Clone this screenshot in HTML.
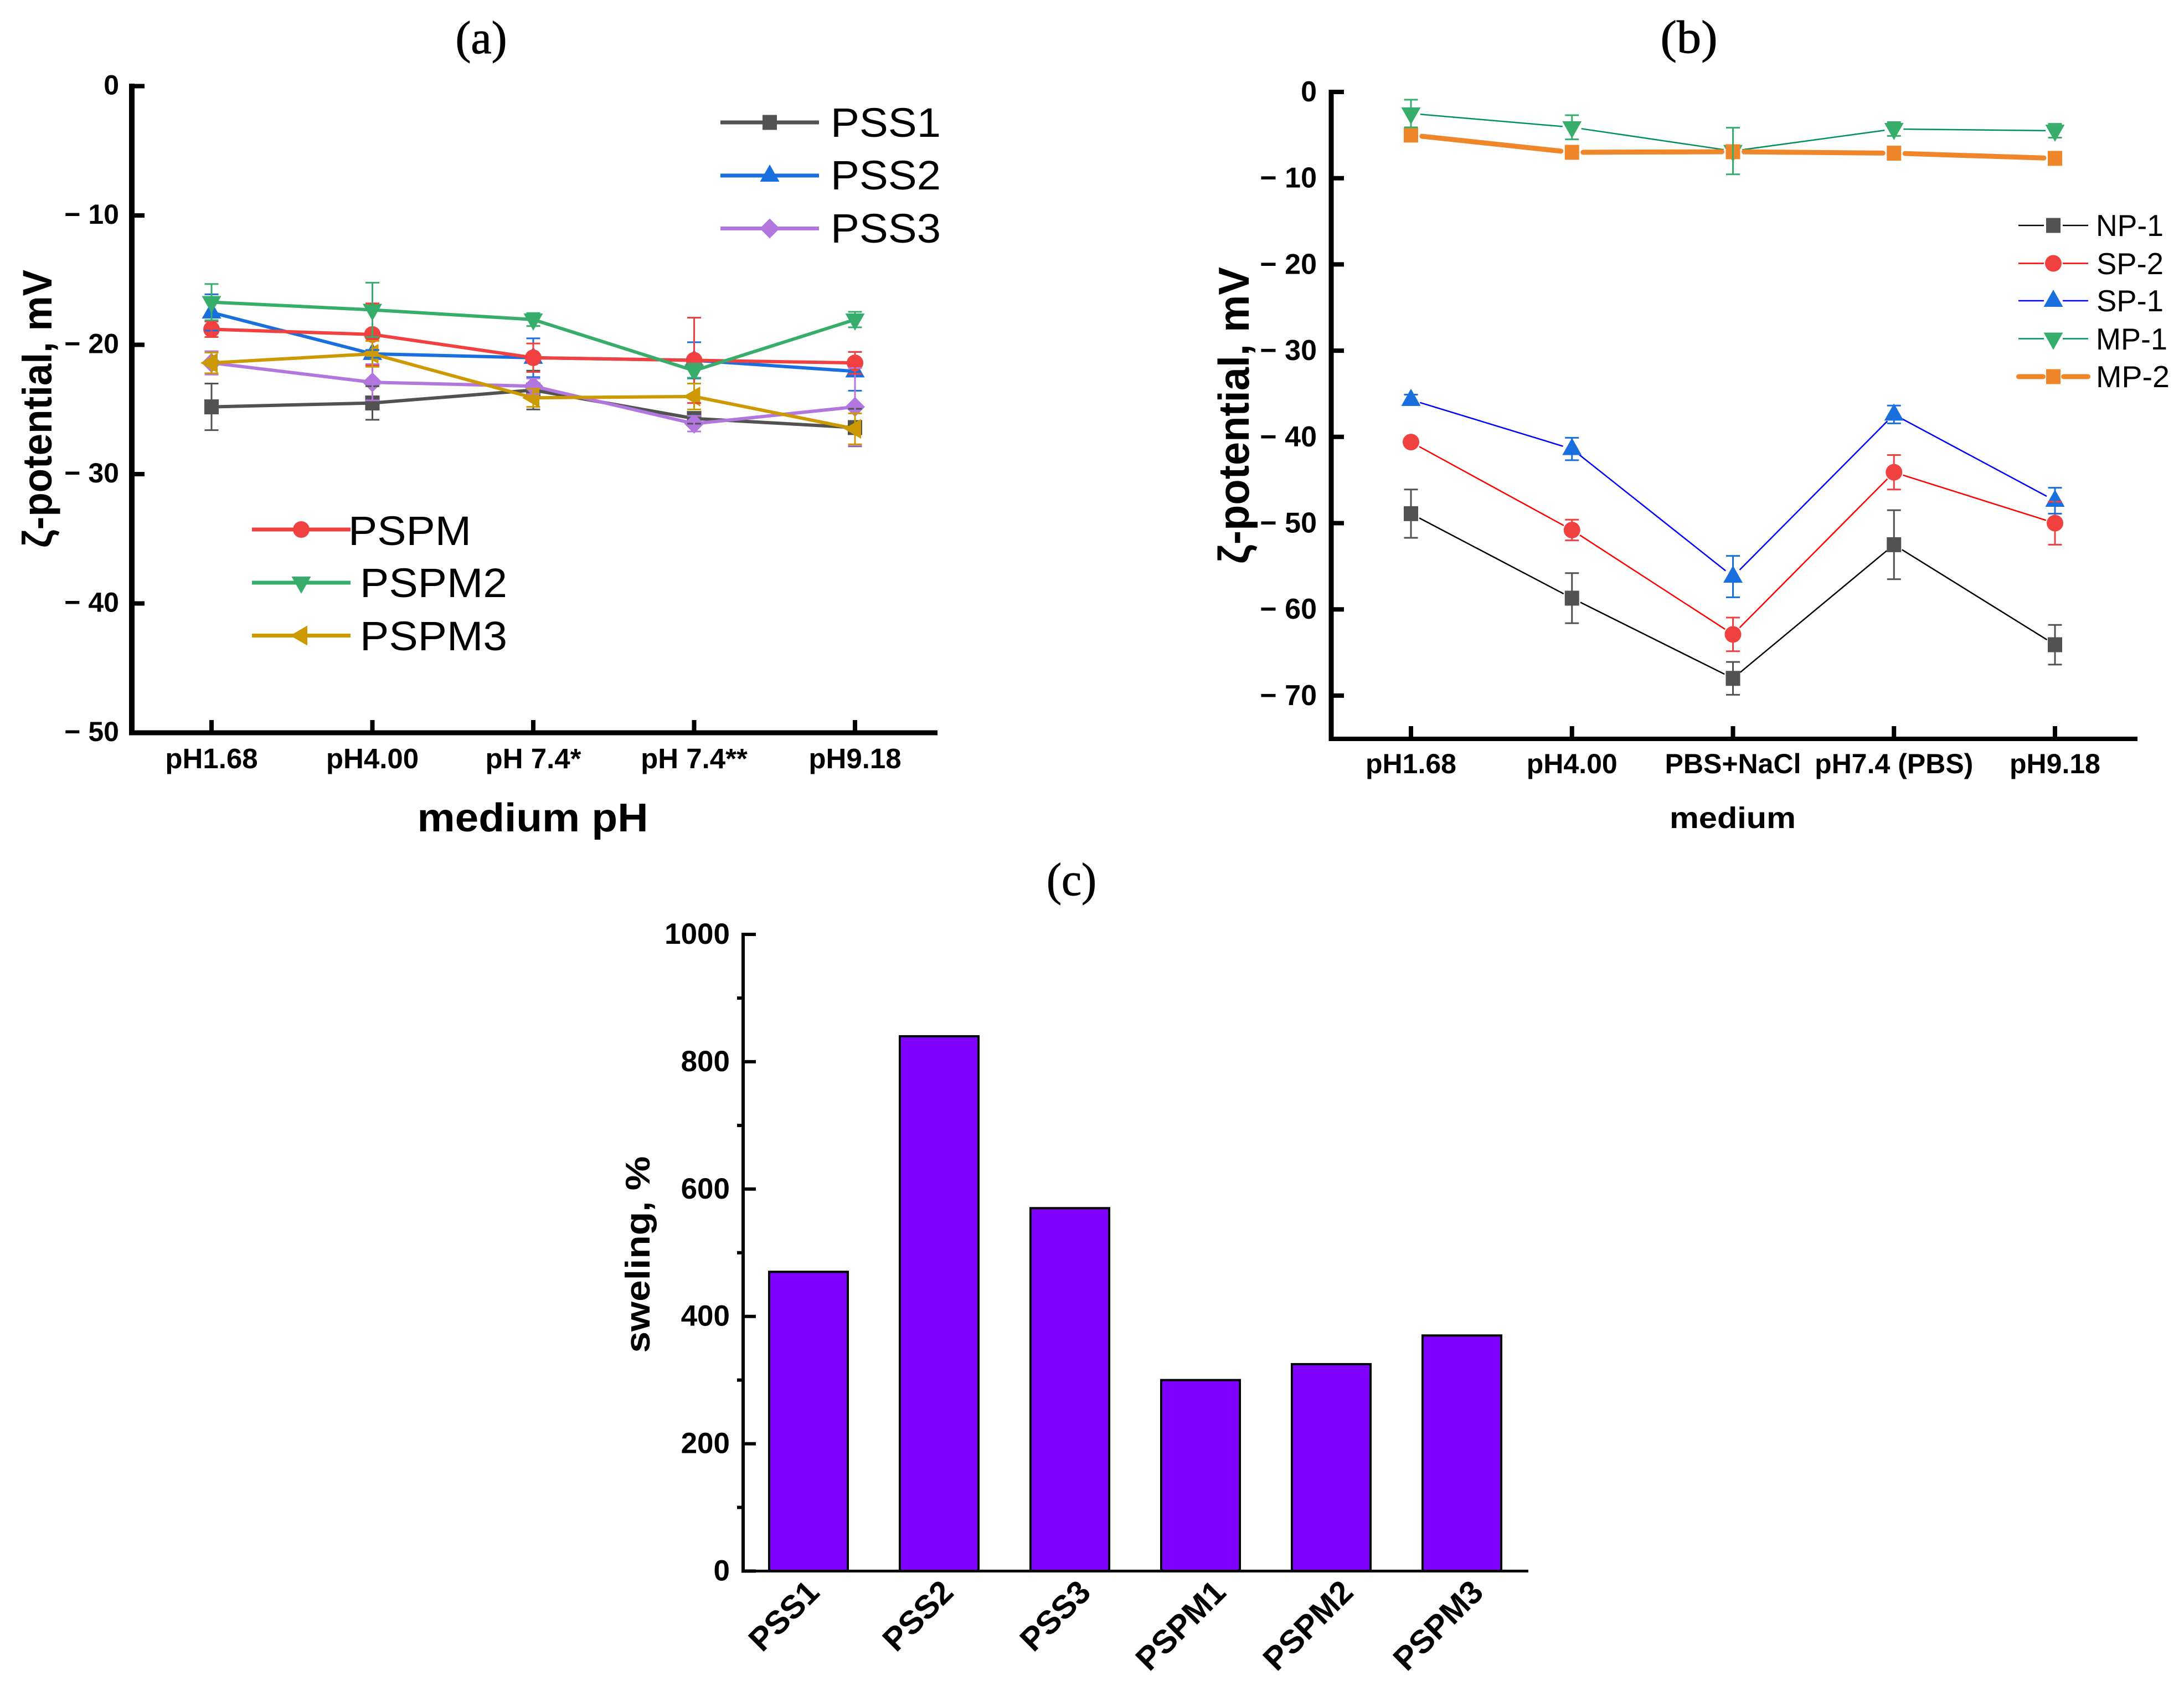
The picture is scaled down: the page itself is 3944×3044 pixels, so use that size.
<!DOCTYPE html>
<html lang="en">
<head>
<meta charset="utf-8">
<title>Zeta potential and swelling charts</title>
<style>
html,body{margin:0;padding:0;background:#fff;}
svg{display:block;}
text{font-family:"Liberation Sans",sans-serif;fill:#000;}
.serif{font-family:"Liberation Serif",serif;stroke:#000;stroke-width:1;}
.bold{font-weight:bold;}
</style>
</head>
<body>
<svg id="figure" xmlns="http://www.w3.org/2000/svg" width="3944" height="3044" viewBox="0 0 3944 3044">
  <rect width="3944" height="3044" fill="#fff"/>

  <text class="serif" x="869" y="96" font-size="84" text-anchor="middle" textLength="93" lengthAdjust="spacingAndGlyphs">(a)</text>
  <text class="serif" x="3050" y="95" font-size="84" text-anchor="middle" textLength="103" lengthAdjust="spacingAndGlyphs">(b)</text>
  <text class="serif" x="1935" y="1616" font-size="84" text-anchor="middle" textLength="90" lengthAdjust="spacingAndGlyphs">(c)</text>

  <text class="bold" transform="translate(93,738) rotate(-90)" font-size="74" text-anchor="middle" textLength="502" lengthAdjust="spacingAndGlyphs">ζ-potential, mV</text>
  <text class="bold" x="962" y="1501" font-size="72" text-anchor="middle" textLength="417" lengthAdjust="spacingAndGlyphs">medium pH</text>

  <text class="bold" transform="translate(2255,750) rotate(-90)" font-size="78" text-anchor="middle" textLength="536" lengthAdjust="spacingAndGlyphs">ζ-potential, mV</text>
  <text class="bold" x="3129" y="1495" font-size="54" text-anchor="middle" textLength="228" lengthAdjust="spacingAndGlyphs">medium</text>

  <text class="bold" transform="translate(1173,2265) rotate(-90)" font-size="62" text-anchor="middle" textLength="355" lengthAdjust="spacingAndGlyphs">sweling, %</text>

  <text x="1500" y="247" font-size="74" textLength="199" lengthAdjust="spacingAndGlyphs">PSS1</text>
  <text x="1500" y="342" font-size="74" textLength="199" lengthAdjust="spacingAndGlyphs">PSS2</text>
  <text x="1500" y="438" font-size="74" textLength="199" lengthAdjust="spacingAndGlyphs">PSS3</text>
  <text x="629" y="984" font-size="74" textLength="222" lengthAdjust="spacingAndGlyphs">PSPM</text>
  <text x="650" y="1078" font-size="74" textLength="266" lengthAdjust="spacingAndGlyphs">PSPM2</text>
  <text x="650" y="1174" font-size="74" textLength="266" lengthAdjust="spacingAndGlyphs">PSPM3</text>

  <text x="3785" y="426" font-size="55" textLength="122" lengthAdjust="spacingAndGlyphs">NP-1</text>
  <text x="3786" y="495" font-size="55" textLength="121" lengthAdjust="spacingAndGlyphs">SP-2</text>
  <text x="3786" y="562" font-size="55" textLength="121" lengthAdjust="spacingAndGlyphs">SP-1</text>
  <text x="3785" y="631" font-size="55" textLength="129" lengthAdjust="spacingAndGlyphs">MP-1</text>
  <text x="3785" y="699" font-size="55" textLength="133" lengthAdjust="spacingAndGlyphs">MP-2</text>

  <g id="panel-a"></g>
  <g id="panel-b"></g>
  <g id="panel-c"></g>
</svg>

<script>
// Panel (a) data
const categoriesA = ['pH1.68', 'pH4.00', 'pH 7.4*', 'pH 7.4**', 'pH9.18'];
const yTicksA = [0, -10, -20, -30, -40, -50];
const pss1Values = [-24.8, -24.5, -23.5, -25.7, -26.4];
const pss1Errors = [1.8, 1.3, 1.5, 0.4, 1.45];
const pss2Values = [-17.5, -20.7, -21, -21.2, -22.05];
const pss2Errors = [1.4, 0.3, 1.5, 1.4, 1.5];
const pss3Values = [-21.4, -22.9, -23.2, -26.1, -24.8];
const pss3Errors = [0.9, 1.4, 0.6, 0.6, 3];
const pspmValues = [-18.8, -19.2, -21, -21.2, -21.4];
const pspmErrors = [0.6, 2.4, 1.1, 3.3, 0.85];
const pspm2Values = [-16.7, -17.3, -18.05, -22, -18.05];
const pspm2Errors = [1.4, 2.1, 0.5, 0.55, 0.6];
const pspm3Values = [-21.4, -20.7, -24.1, -24, -26.5];
const pspm3Errors = [0.8, 1, 0.7, 1, 1.2];

// Panel (b) data
const categoriesB = ['pH1.68', 'pH4.00', 'PBS+NaCl', 'pH7.4 (PBS)', 'pH9.18'];
const yTicksB = [0, -10, -20, -30, -40, -50, -60, -70];
const np1Values = [-48.9, -58.7, -68, -52.5, -64.1];
const np1Errors = [2.8, 2.9, 1.9, 4, 2.3];
const sp2Values = [-40.6, -50.8, -62.9, -44.1, -50];
const sp2Errors = [0.3, 1.2, 1.95, 2, 2.5];
const sp1Values = [-35.7, -41.4, -56.2, -37.4, -47.4];
const sp1Errors = [0.6, 1.3, 2.4, 1.03, 1.5];
const mp1Values = [-2.5, -4.1, -6.85, -4.3, -4.5];
const mp1Errors = [1.6, 1.4, 2.7, 0.8, 0.8];
const mp2Values = [-5, -7, -6.93, -7.1, -7.7];

// Panel (c) data
const categoriesC = ['PSS1', 'PSS2', 'PSS3', 'PSPM1', 'PSPM2', 'PSPM3'];
const swellingValues = [470, 840, 570, 300, 325, 370];
const yTicksC = [0, 200, 400, 600, 800, 1000];
const yMinorTicksC = [100, 300, 500, 700, 900];

const NS = 'http://www.w3.org/2000/svg';

function make(tag, name, parent) {
  const el = document.createElementNS(NS, tag);
  
  
  parent.appendChild(el);
  return el;
}

function segment(name, parent, x1, y1, x2, y2, color, width, cap) {
  const el = make('line', name, parent);
  el.setAttribute('x1', x1);
  el.setAttribute('y1', y1);
  el.setAttribute('x2', x2);
  el.setAttribute('y2', y2);
  el.setAttribute('stroke', color);
  el.setAttribute('stroke-width', width);
  el.setAttribute('stroke-linecap', cap || 'butt');
  return el;
}

function label(name, parent, x, y, str, size, anchor, bold) {
  const el = make('text', name, parent);
  el.setAttribute('x', x);
  el.setAttribute('y', y);
  el.setAttribute('font-size', size);
  el.setAttribute('text-anchor', anchor);
  if (bold) el.setAttribute('font-weight', 'bold');
  el.textContent = str;
  return el;
}

function marker(name, parent, shape, cx, cy, color) {
  let el;
  if (shape === 'circle') {
    el = make('circle', name, parent);
    el.setAttribute('cx', cx);
    el.setAttribute('cy', cy);
    el.setAttribute('r', 15);
  } else if (shape === 'square') {
    el = make('rect', name, parent);
    el.setAttribute('x', cx - 13);
    el.setAttribute('y', cy - 13.5);
    el.setAttribute('width', 26);
    el.setAttribute('height', 27);
  } else {
    el = make('polygon', name, parent);
    let pts;
    if (shape === 'up') pts = [[cx, cy - 20], [cx + 17.5, cy + 11], [cx - 17.5, cy + 11]];
    if (shape === 'down') pts = [[cx, cy + 20], [cx + 17.5, cy - 11], [cx - 17.5, cy - 11]];
    if (shape === 'left') pts = [[cx - 20, cy], [cx + 11, cy - 18], [cx + 11, cy + 18]];
    if (shape === 'diamond') pts = [[cx, cy - 18], [cx + 18, cy], [cx, cy + 18], [cx - 18, cy]];
    el.setAttribute('points', pts.map(p => p.join(',')).join(' '));
  }
  el.setAttribute('fill', color);
  return el;
}

function lineSeries(parent, s, xFn, yFn, lineWidth, gap, cap) {
  const g = make('g', 'series-' + s.key, parent);
  for (let i = 0; i < s.values.length - 1; i++) {
    const x1 = xFn(i), y1 = yFn(s.values[i]);
    const x2 = xFn(i + 1), y2 = yFn(s.values[i + 1]);
    const len = Math.hypot(x2 - x1, y2 - y1);
    const ux = (x2 - x1) / len, uy = (y2 - y1) / len;
    segment('line-' + s.key + '-' + i, g, x1 + ux * gap, y1 + uy * gap, x2 - ux * gap, y2 - uy * gap, s.lineColor, lineWidth, cap);
  }
  s.values.forEach((v, i) => {
    marker('point-' + s.key + '-' + i, g, s.shape, xFn(i), yFn(v), s.color);
  });
}

function errorBars(parent, s, xFn, yFn) {
  if (!s.errors) return;
  const g = make('g', 'error-bars-' + s.key, parent);
  s.values.forEach((v, i) => {
    const x = xFn(i), top = yFn(v + s.errors[i]), bot = yFn(v - s.errors[i]);
    segment('error-stem-' + s.key + '-' + i, g, x, top, x, bot, s.color, 3);
    segment('error-cap-top-' + s.key + '-' + i, g, x - 12.5, top, x + 12.5, top, s.color, 3);
    segment('error-cap-bottom-' + s.key + '-' + i, g, x - 12.5, bot, x + 12.5, bot, s.color, 3);
  });
}

function tickText(v) {
  return v < 0 ? '\u2212 ' + Math.abs(v) : String(v);
}

/* ---------- Panel (a) ---------- */
const panelA = document.getElementById('panel-a');
const xA = i => 382 + 290.5 * i;
const yA = v => 155.5 - 23.35 * v;
const seriesA = [
  { key: 'pss1', values: pss1Values, errors: pss1Errors, color: '#525252', lineColor: '#525252', shape: 'square' },
  { key: 'pss2', values: pss2Values, errors: pss2Errors, color: '#1A6FDF', lineColor: '#1A6FDF', shape: 'up' },
  { key: 'pss3', values: pss3Values, errors: pss3Errors, color: '#B177DE', lineColor: '#B177DE', shape: 'diamond' },
  { key: 'pspm', values: pspmValues, errors: pspmErrors, color: '#F14040', lineColor: '#F14040', shape: 'circle' },
  { key: 'pspm2', values: pspm2Values, errors: pspm2Errors, color: '#37AD6B', lineColor: '#37AD6B', shape: 'down' },
  { key: 'pspm3', values: pspm3Values, errors: pspm3Errors, color: '#CC9900', lineColor: '#CC9900', shape: 'left' }
];
segment('panel-a-y-axis', panelA, 238, yA(0) - 4.5, 238, yA(-50) + 4.5, '#000', 10);
segment('panel-a-x-axis', panelA, 233, yA(-50), 1693, yA(-50), '#000', 9);
yTicksA.forEach(v => {
  segment('panel-a-y-tick-' + Math.abs(v), panelA, 238, yA(v), 261, yA(v), '#000', 8);
  label('panel-a-y-tick-label-' + Math.abs(v), panelA, 215, yA(v) + 15, tickText(v), 50, 'end', true);
});
categoriesA.forEach((c, i) => {
  segment('panel-a-x-tick-' + i, panelA, xA(i), yA(-50), xA(i), 1300, '#000', 8);
  label('panel-a-x-tick-label-' + i, panelA, xA(i), 1387, c, 51, 'middle', true);
});
seriesA.forEach(s => lineSeries(panelA, s, xA, yA, 6, 0));
seriesA.forEach(s => errorBars(panelA, s, xA, yA));

function legendA(key, x1, x2, y, color, shape) {
  const g = make('g', 'legend-entry-' + key, panelA);
  segment('legend-line-' + key, g, x1, y, x2, y, color, 7);
  marker('legend-marker-' + key, g, shape, (x1 + x2) / 2, y, color);
}
legendA('pss1', 1301, 1479, 221, '#525252', 'square');
legendA('pss2', 1301, 1479, 317, '#1A6FDF', 'up');
legendA('pss3', 1301, 1479, 412.5, '#B177DE', 'diamond');
legendA('pspm', 455, 633, 956, '#F14040', 'circle');
legendA('pspm2', 455, 633, 1052, '#37AD6B', 'down');
legendA('pspm3', 455, 633, 1147.5, '#CC9900', 'left');

/* ---------- Panel (b) ---------- */
const panelB = document.getElementById('panel-b');
const xB = i => 2548 + 290.75 * i;
const yB = v => 166 - 15.57 * v;
const seriesB = [
  { key: 'np-1', values: np1Values, errors: np1Errors, color: '#525252', lineColor: '#000000', shape: 'square', width: 2.5, gap: 17 },
  { key: 'sp-2', values: sp2Values, errors: sp2Errors, color: '#F14040', lineColor: '#FF0000', shape: 'circle', width: 2.5, gap: 17 },
  { key: 'sp-1', values: sp1Values, errors: sp1Errors, color: '#1A6FDF', lineColor: '#0000FF', shape: 'up', width: 2.5, gap: 17 },
  { key: 'mp-1', values: mp1Values, errors: mp1Errors, color: '#37AD6B', lineColor: '#008F5F', shape: 'down', width: 2.5, gap: 17 },
  { key: 'mp-2', values: mp2Values, errors: null, color: '#F0862A', lineColor: '#F0862A', shape: 'square', width: 9, gap: 20, cap: 'round' }
];
segment('panel-b-y-axis', panelB, 2404, yB(0) - 4, 2404, 1338, '#000', 9);
segment('panel-b-x-axis', panelB, 2399.5, 1334, 3860, 1334, '#000', 8);
yTicksB.forEach(v => {
  segment('panel-b-y-tick-' + Math.abs(v), panelB, 2404, yB(v), 2427, yB(v), '#000', 8);
  label('panel-b-y-tick-label-' + Math.abs(v), panelB, 2378, yB(v) + 17, tickText(v), 52, 'end', true);
});
categoriesB.forEach((c, i) => {
  segment('panel-b-x-tick-' + i, panelB, xB(i), 1334, xB(i), 1311, '#000', 8);
  label('panel-b-x-tick-label-' + i, panelB, xB(i), 1396, c, 50, 'middle', true);
});
seriesB.forEach(s => lineSeries(panelB, s, xB, yB, s.width, s.gap, s.cap));
seriesB.forEach(s => errorBars(panelB, s, xB, yB));

function legendB(key, y, lineColor, color, shape, width, gap, cap, ext) {
  const g = make('g', 'legend-entry-' + key, panelB);
  segment('legend-line-left-' + key, g, 3645 + ext, y, 3708 - gap, y, lineColor, width, cap);
  segment('legend-line-right-' + key, g, 3708 + gap, y, 3771 - ext, y, lineColor, width, cap);
  marker('legend-marker-' + key, g, shape, 3708, y, color);
}
legendB('np-1', 407, '#000000', '#525252', 'square', 2.5, 17, 'butt', 0);
legendB('sp-2', 475.5, '#FF0000', '#F14040', 'circle', 2.5, 17, 'butt', 0);
legendB('sp-1', 543, '#0000FF', '#1A6FDF', 'up', 2.5, 17, 'butt', 0);
legendB('mp-1', 611.5, '#008F5F', '#37AD6B', 'down', 2.5, 17, 'butt', 0);
legendB('mp-2', 680, '#F0862A', '#F0862A', 'square', 9, 18.5, 'round', 0.5);

/* ---------- Panel (c) ---------- */
const panelC = document.getElementById('panel-c');
const xC = i => 1460 + 236 * i;
const yC = v => 2836.5 - 1.1495 * v;
const labelNudgeC = [23, 29, 41, 49, 43, 42];
swellingValues.forEach((v, i) => {
  const bar = make('rect', 'bar-' + categoriesC[i].toLowerCase(), panelC);
  bar.setAttribute('x', xC(i) - 71);
  bar.setAttribute('y', yC(v));
  bar.setAttribute('width', 142);
  bar.setAttribute('height', yC(0) - yC(v));
  bar.setAttribute('fill', '#8000FF');
  bar.setAttribute('stroke', '#000');
  bar.setAttribute('stroke-width', 4);
  const px = xC(i) + labelNudgeC[i];
  const t = label('panel-c-x-tick-label-' + i, panelC, px, 2878, categoriesC[i], 59, 'end', true);
  t.setAttribute('transform', 'rotate(-45 ' + px + ' 2878)');
});
segment('panel-c-y-axis', panelC, 1342, yC(1000) - 3, 1342, 2839, '#000', 6);
segment('panel-c-x-axis', panelC, 1339, 2836.5, 2760, 2836.5, '#000', 5);
yTicksC.forEach(v => {
  segment('panel-c-y-tick-' + v, panelC, 1339, yC(v), 1365, yC(v), '#000', 6);
  label('panel-c-y-tick-label-' + v, panelC, 1318, yC(v) + 17, String(v), 53, 'end', true);
});
yMinorTicksC.forEach(v => {
  segment('panel-c-y-minor-tick-' + v, panelC, 1331, yC(v), 1339, yC(v), '#000', 6);
});
</script>
</body>
</html>
